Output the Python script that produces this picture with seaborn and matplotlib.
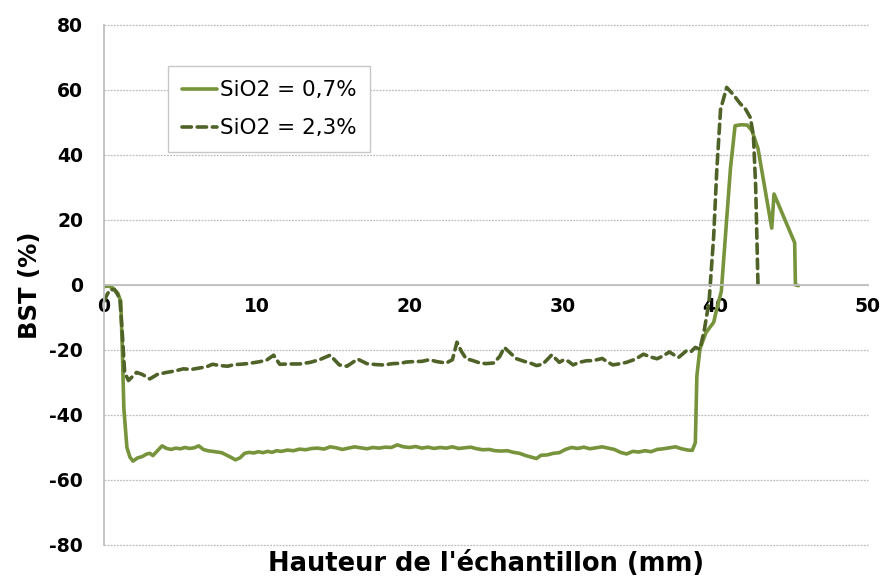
import matplotlib
matplotlib.use("Agg")
import matplotlib.pyplot as plt
import seaborn as sns
import pandas as pd

# Series for SiO2 = 0,7 %
x_07 = [0.0, 0.3, 0.6, 0.9, 1.1, 1.2, 1.3, 1.5, 1.7, 1.9, 2.2, 2.5, 2.8, 3.0, 3.2, 3.5,
        3.8, 4.1, 4.4, 4.7, 5.0, 5.3, 5.6, 5.9, 6.2, 6.5, 6.8, 7.1, 7.4, 7.7, 8.0, 8.3,
        8.6, 8.9, 9.2, 9.5, 9.8, 10.1, 10.4, 10.7, 11.0, 11.3, 11.6, 12.0, 12.4, 12.8,
        13.2, 13.6, 14.0, 14.4, 14.8, 15.2, 15.6, 16.0, 16.4, 16.8, 17.2, 17.6, 18.0,
        18.4, 18.8, 19.2, 19.6, 20.0, 20.4, 20.8, 21.2, 21.6, 22.0, 22.4, 22.8, 23.2,
        23.6, 24.0, 24.4, 24.8, 25.2, 25.6, 26.0, 26.4, 26.8, 27.2, 27.6, 28.0, 28.3,
        28.6, 29.0, 29.4, 29.8, 30.2, 30.6, 31.0, 31.4, 31.8, 32.2, 32.6, 33.0, 33.4,
        33.8, 34.2, 34.6, 35.0, 35.4, 35.8, 36.2, 36.6, 37.0, 37.4, 37.8, 38.2, 38.5,
        38.7, 38.8, 39.0, 39.4, 39.9, 40.1, 40.4, 40.75, 41.0, 41.3, 41.7, 42.1, 42.4,
        42.8, 43.7, 43.85, 45.2, 45.25, 45.45]
bst_07 = [-0.5, -0.3, -1.0, -2.5, -5.0, -20.0, -38.0, -50.0, -53.0, -54.2, -53.2, -52.8,
          -52.0, -51.8, -52.5, -51.0, -49.5, -50.3, -50.6, -50.2, -50.4, -50.0, -50.3,
          -50.1, -49.5, -50.6, -51.0, -51.2, -51.4, -51.6, -52.3, -53.0, -53.8, -53.2,
          -51.8, -51.5, -51.7, -51.3, -51.6, -51.2, -51.5, -51.0, -51.2, -50.8, -51.0,
          -50.5, -50.7, -50.3, -50.2, -50.5, -49.8, -50.1, -50.6, -50.2, -49.8, -50.1,
          -50.4, -50.0, -50.2, -49.9, -50.0, -49.2, -49.8, -50.0, -49.7, -50.2, -49.9,
          -50.3, -50.0, -50.2, -49.8, -50.3, -50.1, -49.9, -50.4, -50.7, -50.6, -51.0,
          -51.1, -51.0, -51.5, -51.8, -52.5, -53.0, -53.4, -52.4, -52.3, -51.8, -51.6,
          -50.6, -50.0, -50.3, -49.9, -50.4, -50.1, -49.8, -50.2, -50.6, -51.5, -52.0,
          -51.2, -51.4, -51.0, -51.3, -50.6, -50.4, -50.1, -49.8, -50.4, -50.8, -50.9,
          -48.5, -28.0, -19.7, -14.6, -11.5, -7.4, -2.0, 20.0, 36.0, 49.0, 49.3, 49.2,
          47.5, 42.0, 17.5, 28.0, 13.0, 0.0, -0.2]

# Series for SiO2 = 2,3 %
x_23 = [0.0, 0.2, 0.4, 0.7, 0.9, 1.05, 1.2, 1.35, 1.6, 1.9, 2.13, 2.5, 3.0, 3.5, 4.1,
        4.6, 5.2, 5.7, 6.3, 6.7, 7.1, 7.6, 8.1, 8.5, 8.9, 9.4, 9.8, 10.2, 10.65, 11.1,
        11.5, 12.2, 12.8, 13.5, 14.1, 14.8, 15.4, 15.9, 16.6, 17.2, 17.8, 18.3, 18.9,
        19.4, 19.8, 20.2, 20.8, 21.3, 21.8, 22.4, 22.8, 23.1, 23.4, 23.7, 24.1, 24.6,
        25.0, 25.5, 25.9, 26.2, 26.6, 27.0, 27.5, 28.0, 28.3, 28.7, 29.0, 29.3, 29.8,
        30.1, 30.4, 30.7, 31.1, 31.6, 32.0, 32.6, 33.0, 33.3, 33.8, 34.2, 34.8, 35.3,
        35.8, 36.2, 36.6, 37.0, 37.3, 37.6, 38.1, 38.4, 38.7, 39.0, 39.3, 39.6, 39.9,
        40.1, 40.35, 40.75, 41.2, 41.6, 42.0, 42.3, 42.5, 42.65, 42.75, 42.8, 42.95]
bst_23 = [-5.0, -3.0, -1.4, -1.5, -3.0, -5.0, -15.0, -26.8, -29.4, -28.0, -26.9, -27.5,
          -28.9, -27.5, -26.9, -26.5, -25.8, -26.0, -25.5, -25.2, -24.4, -24.8, -25.0,
          -24.5, -24.4, -24.2, -23.9, -23.6, -23.1, -21.6, -24.4, -24.3, -24.3, -23.8,
          -23.0, -21.6, -24.6, -25.0, -22.8, -24.2, -24.5, -24.6, -24.2, -24.1, -23.7,
          -23.6, -23.5, -23.0, -23.6, -24.0, -23.0, -17.6, -20.5, -22.7, -23.2, -24.0,
          -24.2, -24.0, -22.0, -19.2, -21.0, -22.7, -23.5, -24.2, -24.8, -24.4, -23.0,
          -21.5, -23.8, -23.0, -23.5, -24.6, -23.8, -23.3, -23.3, -22.6, -23.8, -24.6,
          -24.2, -23.8, -22.8, -21.3, -22.2, -22.7, -21.8, -20.6, -21.5, -22.3, -20.3,
          -20.6, -19.2, -19.8, -13.5, -5.0, 15.0, 35.0, 54.0, 60.8, 58.5, 56.0, 54.0,
          51.5, 46.0, 30.0, 10.0, 0.0, -0.3]

labels = ["SiO2 = 0,7%", "SiO2 = 2,3%"]
colors = ["#77933C", "#4F6228"]
x_ticks = [0, 10, 20, 30, 40, 50]
y_ticks = [-80, -60, -40, -20, 0, 20, 40, 60, 80]

sns.set_theme(style="white")
plt.rcParams["font.family"] = ["DejaVu Sans"]
plt.rcParams["axes.unicode_minus"] = False
plt.rcParams["text.color"] = "black"

fig = plt.figure(figsize=(8.85, 5.81), dpi=100)
ax = fig.add_axes([0.1175, 0.062, 0.8633, 0.895])

df07 = pd.DataFrame({"x": x_07, "bst": bst_07})
df23 = pd.DataFrame({"x": x_23, "bst": bst_23})

sns.lineplot(data=df07, x="x", y="bst", ax=ax, color=colors[0], lw=2.6,
             estimator=None, sort=False, label=labels[0])
sns.lineplot(data=df23, x="x", y="bst", ax=ax, color=colors[1], lw=2.6,
             estimator=None, sort=False, label=labels[1])
dash_line = ax.get_lines()[1]
dash_line.set_dashes([2.6, 1.6])
dash_line.set_dash_capstyle("round")

ax.set_xlim(0, 50)
ax.set_ylim(-80, 80)
ax.set_xticks(x_ticks)
ax.set_yticks(y_ticks)

# horizontal dotted grid
ax.set_axisbelow(True)
ax.yaxis.grid(True, color="#BDBDBD", lw=0.9, ls=(0, (1.5, 1.0)))
for gl in ax.yaxis.get_gridlines():
    gl.set_clip_on(False)

for s in ["top", "right"]:
    ax.spines[s].set_visible(False)
ax.spines["bottom"].set_position(("data", 0))
ax.spines["bottom"].set_color("#BFBFBF")
ax.spines["left"].set_color("#BFBFBF")
ax.spines["bottom"].set_linewidth(1.3)
ax.spines["left"].set_linewidth(1.3)

ax.tick_params(axis="both", which="major", direction="out", length=5, width=1.2,
               color="#BFBFBF", labelsize=13.5, labelcolor="black")
ax.tick_params(axis="y", pad=10)
ax.tick_params(axis="x", pad=4)
for t in ax.get_xticklabels() + ax.get_yticklabels():
    t.set_fontweight("bold")

ax.set_xlabel("Hauteur de l'échantillon (mm)", fontsize=18.5, fontweight="bold",
              va="top", color="black")
ax.xaxis.set_label_coords(0.5, -0.012)
ax.set_ylabel("BST (%)", fontsize=17.5, fontweight="bold", va="center", color="black")
ax.yaxis.set_label_coords(-0.097, 0.5)

leg = ax.legend(loc="upper left", bbox_to_anchor=(0.084, 0.921), fontsize=15.5,
                frameon=True, fancybox=False, framealpha=1, edgecolor="#C8C8C8",
                handlelength=1.6, handletextpad=0.15, labelspacing=0.85,
                borderpad=0.65, borderaxespad=0)
leg.get_frame().set_linewidth(1.0)
for t in leg.get_texts():
    t.set_color("black")

fig.savefig("out.png", dpi=100, facecolor="white")
